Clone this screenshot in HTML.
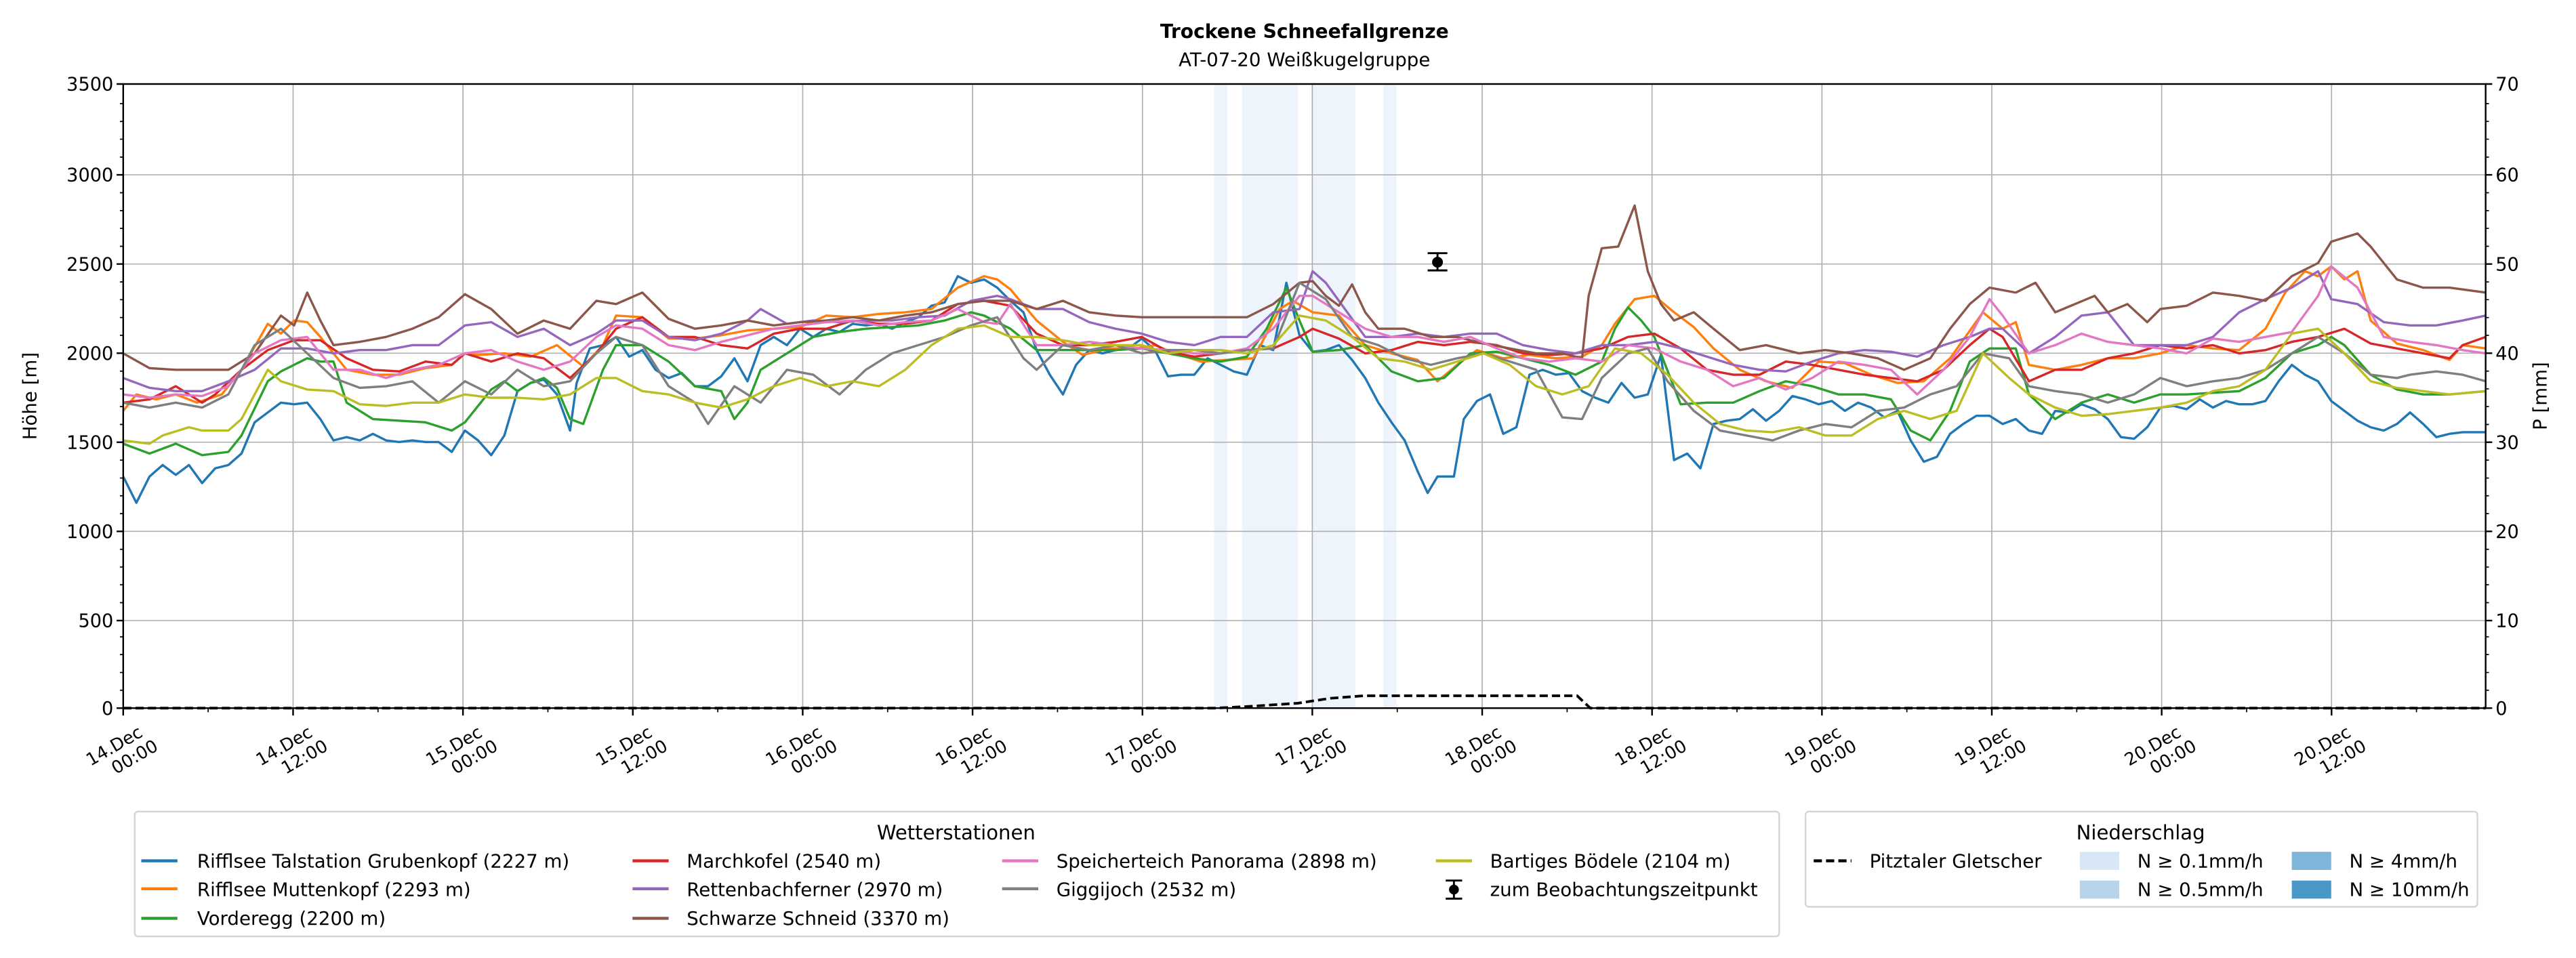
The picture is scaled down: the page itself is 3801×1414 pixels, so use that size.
<!DOCTYPE html>
<html><head><meta charset="utf-8"><style>
html,body{margin:0;padding:0;background:#fff;}
svg{display:block;}
text{font-family:"DejaVu Sans","Liberation Sans",sans-serif;fill:#000;}
</style></head><body>
<svg width="3801" height="1414" viewBox="0 0 1568 583" xmlns="http://www.w3.org/2000/svg">
<rect width="1568" height="583" fill="#fff"/>
<text x="794" y="23" font-size="11.6" font-weight="bold" text-anchor="middle">Trockene Schneefallgrenze</text>
<text x="794" y="40" font-size="11.4" text-anchor="middle">AT-07-20 Weißkugelgruppe</text>
<g fill="#eef4fb">
<rect x="739" y="51" width="8" height="380"/>
<rect x="756" y="51" width="34" height="380"/>
<rect x="799" y="51" width="26" height="380"/>
<rect x="842" y="51" width="8" height="380"/>
</g>
<g stroke="#b0b0b0" stroke-width="0.7">
<line x1="75" x2="1513" y1="377.7" y2="377.7"/><line x1="75" x2="1513" y1="323.4" y2="323.4"/>
<line x1="75" x2="1513" y1="269.1" y2="269.1"/><line x1="75" x2="1513" y1="214.9" y2="214.9"/>
<line x1="75" x2="1513" y1="160.6" y2="160.6"/><line x1="75" x2="1513" y1="106.3" y2="106.3"/>
<line y1="51" y2="431" x1="178.4" x2="178.4"/><line y1="51" y2="431" x1="281.8" x2="281.8"/>
<line y1="51" y2="431" x1="385.2" x2="385.2"/><line y1="51" y2="431" x1="488.6" x2="488.6"/>
<line y1="51" y2="431" x1="592" x2="592"/><line y1="51" y2="431" x1="695.4" x2="695.4"/>
<line y1="51" y2="431" x1="798.8" x2="798.8"/><line y1="51" y2="431" x1="902.2" x2="902.2"/>
<line y1="51" y2="431" x1="1005.6" x2="1005.6"/><line y1="51" y2="431" x1="1109" x2="1109"/>
<line y1="51" y2="431" x1="1212.4" x2="1212.4"/><line y1="51" y2="431" x1="1315.8" x2="1315.8"/>
<line y1="51" y2="431" x1="1419.2" x2="1419.2"/>
</g>
<g fill="none" stroke-width="1.4" stroke-linejoin="round">
<polyline stroke="#1f77b4" points="75,290 83,306 91,290 99,283 107,289 115,283 123,294 131,285 139,283 147,276 155,257 163,251 171,245 179,246 187,245 195,255 203,268 211,266 219,268 227,264 235,268 243,269 251,268 259,269 267,269 275,275 283,262 291,268 299,277 307,265 315,238 323,233 331,231 339,240 347,262 351,233 359,212 367,210 375,205 383,217 391,213 399,225 407,230 415,227 423,235 431,235 439,229 447,218 455,232 463,210 471,205 479,210 487,200 495,205 503,200 511,202 519,197 527,198 535,197 543,200 551,196 559,193 567,186 575,184 583,168 591,172 599,170 607,175 615,183 623,190 631,213 639,228 647,240 655,222 663,213 671,215 679,213 687,212 695,206 703,213 711,229 719,228 727,228 735,218 743,222 751,226 759,228 767,210 775,213 783,172 791,204 799,214 807,213 815,210 823,219 831,230 839,245 847,257 855,268 863,287 869,300 875,290 885,290 891,255 899,244 907,240 915,264 923,260 931,228 939,225 947,228 955,227 963,238 971,242 979,245 987,233 995,242 1003,240 1011,216 1019,280 1027,276 1035,285 1043,258 1051,256 1059,255 1067,249 1075,256 1083,250 1091,241 1099,243 1107,246 1115,244 1123,250 1131,245 1139,248 1147,254 1155,250 1163,268 1171,281 1179,278 1187,264 1195,258 1203,253 1211,253 1219,258 1227,255 1235,262 1243,264 1251,250 1259,251 1267,246 1275,249 1283,255 1291,266 1299,267 1307,260 1315,248 1323,247 1331,249 1339,243 1347,248 1355,244 1363,246 1371,246 1379,244 1387,232 1395,222 1403,228 1411,232 1419,244 1427,250 1435,256 1443,260 1451,262 1459,258 1467,251 1475,258 1483,266 1491,264 1499,263 1513,263"/>
<polyline stroke="#ff7f0e" points="75,250 83,240 95,243 107,240 120,245 135,240 147,225 163,197 171,203 179,195 187,196 195,205 203,215 211,225 227,228 243,228 259,224 275,222 283,215 291,216 307,215 323,217 339,210 355,223 367,210 375,192 391,193 407,206 423,206 439,204 455,201 471,200 487,199 503,192 519,193 535,191 551,190 567,188 583,175 599,168 607,170 615,176 631,195 647,208 659,216 675,212 691,212 703,210 715,215 731,220 747,219 763,218 779,188 787,183 799,190 815,192 831,210 847,215 863,219 875,232 887,222 899,213 915,218 931,216 947,218 963,217 975,210 983,197 995,182 1007,180 1019,190 1031,199 1043,212 1059,225 1075,232 1091,236 1107,220 1123,221 1139,228 1155,233 1171,232 1187,218 1207,190 1219,200 1227,196 1235,222 1251,225 1267,222 1283,218 1299,218 1315,215 1331,210 1347,212 1363,213 1379,200 1391,178 1403,165 1411,168 1419,162 1427,170 1435,165 1443,195 1459,209 1475,213 1491,219 1499,210 1513,212"/>
<polyline stroke="#2ca02c" points="75,270 91,276 107,270 123,277 139,275 147,265 163,232 171,226 179,222 187,218 195,220 203,220 211,245 227,255 243,256 259,257 275,262 283,257 299,237 307,232 315,238 323,233 331,230 339,236 347,255 355,258 367,225 375,210 391,210 407,220 423,235 439,238 447,255 455,245 463,225 479,215 495,205 511,202 527,200 543,199 559,198 575,195 591,190 599,192 615,200 631,213 647,213 663,213 679,213 695,212 711,215 727,218 743,220 759,217 771,200 783,175 791,195 799,214 815,213 831,210 847,226 863,232 879,230 895,215 911,214 927,218 943,222 959,228 975,220 983,200 991,187 999,195 1007,205 1023,246 1039,245 1055,245 1071,238 1087,232 1103,235 1119,240 1135,240 1151,243 1163,262 1175,268 1187,250 1199,220 1211,212 1227,212 1235,240 1251,255 1267,245 1283,240 1299,245 1315,240 1331,240 1347,239 1363,238 1379,230 1395,215 1411,210 1419,205 1427,210 1443,228 1459,237 1475,240 1491,240 1513,238"/>
<polyline stroke="#d62728" points="75,245 91,243 107,235 123,245 131,240 147,225 163,213 179,207 195,207 211,218 227,225 243,226 259,220 275,222 283,215 299,220 315,215 331,218 347,230 363,215 375,200 391,193 407,205 423,205 439,210 455,212 471,203 487,200 503,200 519,195 535,197 551,197 567,195 583,185 599,183 615,186 631,203 647,210 663,210 679,208 695,205 711,214 727,217 743,215 759,213 775,212 791,205 799,200 815,206 831,215 847,213 863,208 879,210 895,208 911,210 927,215 943,216 959,215 975,212 991,205 1007,203 1023,212 1039,225 1055,228 1071,228 1087,220 1103,222 1119,225 1135,228 1151,230 1167,232 1183,225 1199,210 1211,200 1219,205 1235,232 1251,225 1267,225 1283,218 1299,215 1315,210 1331,212 1347,210 1363,215 1379,213 1395,208 1411,205 1427,200 1443,209 1459,212 1475,215 1491,218 1499,210 1513,205"/>
<polyline stroke="#9467bd" points="75,230 91,236 107,238 123,238 139,232 155,225 171,212 187,212 203,215 219,213 235,213 251,210 267,210 283,198 299,196 315,205 331,200 347,210 363,203 375,195 391,195 407,205 423,207 439,203 455,195 463,188 479,197 495,195 511,196 527,195 543,195 559,193 575,192 591,183 607,180 615,182 631,188 647,188 663,196 679,200 695,203 711,208 727,210 743,205 759,205 775,190 791,188 799,165 807,172 815,183 831,205 847,205 863,203 879,205 895,203 911,203 927,210 943,213 959,215 975,210 991,210 1007,208 1023,212 1039,217 1055,222 1071,225 1087,226 1103,220 1119,215 1135,213 1151,214 1167,217 1183,210 1199,205 1211,200 1219,200 1235,215 1251,205 1267,192 1283,190 1299,210 1315,210 1331,210 1347,205 1363,190 1379,182 1395,175 1411,165 1419,182 1435,185 1451,196 1467,198 1483,198 1499,195 1513,192"/>
<polyline stroke="#8c564b" points="75,215 91,224 107,225 123,225 139,225 155,215 171,192 179,198 187,178 195,195 203,210 219,208 235,205 251,200 267,193 283,179 299,188 315,203 331,195 347,200 363,183 375,185 391,178 407,194 423,200 439,198 455,195 471,198 487,196 503,195 519,193 535,195 551,192 567,190 583,185 599,183 615,183 631,188 647,183 663,190 679,192 695,193 711,193 727,193 743,193 759,193 775,185 791,172 799,171 807,180 815,186 823,173 831,190 839,200 855,200 871,205 887,205 903,209 919,212 935,215 951,215 963,218 967,180 975,151 985,150 995,125 1003,165 1011,185 1019,195 1031,190 1043,200 1059,213 1075,210 1087,213 1095,215 1111,213 1127,215 1143,218 1159,225 1175,218 1187,200 1199,185 1211,175 1227,178 1239,172 1251,190 1263,185 1275,180 1283,190 1295,185 1307,196 1315,188 1331,186 1347,178 1363,180 1379,183 1395,168 1411,160 1419,147 1435,142 1443,150 1459,170 1475,175 1491,175 1513,178"/>
<polyline stroke="#e377c2" points="75,240 91,242 107,240 123,241 139,235 155,215 171,207 187,205 203,225 219,225 235,230 251,225 267,222 283,215 299,213 315,220 331,225 347,220 363,205 375,198 391,200 407,210 423,213 439,208 455,204 471,200 487,198 503,196 519,195 535,198 551,196 567,195 583,188 599,196 607,197 615,185 631,210 647,210 663,208 679,210 695,212 711,213 727,215 743,215 759,212 775,200 791,180 799,180 815,190 831,200 847,205 863,205 879,208 895,205 911,212 927,218 943,220 959,218 975,220 991,210 1007,212 1023,220 1039,225 1055,235 1071,230 1087,237 1103,230 1119,220 1135,222 1151,225 1167,240 1183,225 1199,205 1211,182 1219,192 1235,215 1251,210 1267,203 1283,208 1299,210 1315,212 1331,215 1347,206 1363,208 1379,205 1395,202 1411,180 1419,162 1435,175 1451,205 1467,208 1483,210 1499,213 1513,215"/>
<polyline stroke="#7f7f7f" points="75,245 91,248 107,245 123,248 139,240 155,210 171,200 187,215 203,230 219,236 235,235 251,232 267,245 283,232 299,240 315,225 331,235 347,232 363,215 375,205 391,210 407,235 423,245 431,258 447,235 463,245 479,225 495,228 511,240 527,225 543,215 559,210 575,205 591,198 607,193 623,218 631,225 647,210 663,213 679,210 695,215 711,213 727,213 743,215 759,213 775,212 791,172 807,182 823,205 839,210 855,218 871,222 887,218 903,215 919,220 935,225 951,254 963,255 975,230 991,215 1003,212 1015,232 1031,250 1047,262 1063,265 1079,268 1095,262 1111,258 1127,260 1143,250 1159,248 1175,240 1191,235 1207,215 1223,218 1235,235 1251,238 1267,240 1283,245 1299,240 1315,230 1331,235 1347,232 1363,230 1379,225 1395,215 1411,205 1427,215 1443,228 1459,230 1467,228 1483,226 1499,228 1513,232"/>
<polyline stroke="#bcbd22" points="75,268 91,270 99,265 115,260 123,262 139,262 147,255 163,225 171,232 187,237 203,238 219,246 235,247 251,245 267,245 283,240 299,242 315,242 331,243 347,240 363,230 375,230 391,238 407,240 423,245 439,248 455,243 471,235 487,230 503,235 519,232 535,235 551,225 567,210 583,200 599,198 615,205 631,205 647,207 663,210 679,210 695,210 711,215 727,213 743,213 759,215 775,210 791,192 807,195 823,205 839,218 855,220 871,225 887,220 903,215 919,222 935,235 951,240 967,235 983,212 999,215 1015,228 1031,245 1047,258 1063,262 1079,263 1095,260 1111,265 1127,265 1143,255 1159,250 1175,255 1191,250 1207,215 1223,230 1235,240 1251,248 1267,253 1283,252 1299,250 1315,248 1331,245 1347,238 1363,235 1379,225 1395,203 1411,200 1427,215 1443,232 1459,236 1475,238 1491,240 1513,238"/>
</g>
<polyline fill="none" stroke="#000" stroke-width="1.6" stroke-dasharray="5,2.5" points="75,431 740,431 760,430 790,428 810,425 830,423.5 960,423.5 968,431 1513,431"/>
<g stroke="#000" stroke-width="1.2">
<line x1="875" x2="875" y1="154" y2="164.5"/><line x1="869" x2="881" y1="154" y2="154"/><line x1="869" x2="881" y1="164.5" y2="164.5"/>
</g>
<circle cx="875" cy="159.5" r="3.3" fill="#000"/>
<rect x="75" y="51" width="1438" height="380" fill="none" stroke="#000" stroke-width="1"/>
<g stroke="#000" stroke-width="1">
<path d="M71,431H75M71,377.7H75M71,323.4H75M71,269.1H75M71,214.9H75M71,160.6H75M71,106.3H75M71,51H75"/>
<path d="M1513,431H1517M1513,377.7H1517M1513,323.4H1517M1513,269.1H1517M1513,214.9H1517M1513,160.6H1517M1513,106.3H1517M1513,51H1517"/>
<path d="M75,431V435.5M178.4,431V435.5M281.8,431V435.5M385.2,431V435.5M488.6,431V435.5M592,431V435.5M695.4,431V435.5M798.8,431V435.5M902.2,431V435.5M1005.6,431V435.5M1109,431V435.5M1212.4,431V435.5M1315.8,431V435.5M1419.2,431V435.5"/>
</g>
<g stroke="#000" stroke-width="0.7">
<path d="M73,420.1H75M73,409.3H75M73,398.4H75M73,387.6H75M73,366.8H75M73,355.9H75M73,345.1H75M73,334.3H75M73,312.6H75M73,301.7H75M73,290.9H75M73,280H75M73,258.3H75M73,247.4H75M73,236.6H75M73,225.8H75M73,204H75M73,193.2H75M73,182.3H75M73,171.5H75M73,149.8H75M73,138.9H75M73,128.1H75M73,117.2H75M73,95.5H75M73,84.6H75M73,73.8H75M73,62.9H75"/>
<path d="M1513,420.1H1515M1513,409.3H1515M1513,398.4H1515M1513,387.6H1515M1513,366.8H1515M1513,355.9H1515M1513,345.1H1515M1513,334.3H1515M1513,312.6H1515M1513,301.7H1515M1513,290.9H1515M1513,280H1515M1513,258.3H1515M1513,247.4H1515M1513,236.6H1515M1513,225.8H1515M1513,204H1515M1513,193.2H1515M1513,182.3H1515M1513,171.5H1515M1513,149.8H1515M1513,138.9H1515M1513,128.1H1515M1513,117.2H1515M1513,95.5H1515M1513,84.6H1515M1513,73.8H1515M1513,62.9H1515"/>
<path d="M126.7,431V433.5M230.1,431V433.5M333.5,431V433.5M436.9,431V433.5M540.3,431V433.5M643.7,431V433.5M747.1,431V433.5M850.5,431V433.5M953.9,431V433.5M1057.3,431V433.5M1160.7,431V433.5M1264.1,431V433.5M1367.5,431V433.5M1470.9,431V433.5"/>
</g>
<g font-size="11.2" text-anchor="end">
<text x="69" y="435">0</text><text x="69" y="381.7">500</text><text x="69" y="327.4">1000</text><text x="69" y="273.1">1500</text><text x="69" y="218.9">2000</text><text x="69" y="164.6">2500</text><text x="69" y="110.3">3000</text><text x="69" y="55">3500</text>
</g>
<g font-size="11.2" text-anchor="start">
<text x="1519" y="435">0</text><text x="1519" y="381.7">10</text><text x="1519" y="327.4">20</text><text x="1519" y="273.1">30</text><text x="1519" y="218.9">40</text><text x="1519" y="164.6">50</text><text x="1519" y="110.3">60</text><text x="1519" y="55">70</text>
</g>
<text transform="translate(22,241) rotate(-90)" font-size="11.4" text-anchor="middle">Höhe [m]</text>
<text transform="translate(1550,241) rotate(-90)" font-size="11.4" text-anchor="middle">P [mm]</text>
<g font-size="10.6" text-anchor="end">
<g transform="translate(83,440) rotate(-30)"><text x="0" y="9">14.Dec</text><text x="4" y="21">00:00</text></g>
<g transform="translate(186.4,440) rotate(-30)"><text x="0" y="9">14.Dec</text><text x="4" y="21">12:00</text></g>
<g transform="translate(289.8,440) rotate(-30)"><text x="0" y="9">15.Dec</text><text x="4" y="21">00:00</text></g>
<g transform="translate(393.2,440) rotate(-30)"><text x="0" y="9">15.Dec</text><text x="4" y="21">12:00</text></g>
<g transform="translate(496.6,440) rotate(-30)"><text x="0" y="9">16.Dec</text><text x="4" y="21">00:00</text></g>
<g transform="translate(600,440) rotate(-30)"><text x="0" y="9">16.Dec</text><text x="4" y="21">12:00</text></g>
<g transform="translate(703.4,440) rotate(-30)"><text x="0" y="9">17.Dec</text><text x="4" y="21">00:00</text></g>
<g transform="translate(806.8,440) rotate(-30)"><text x="0" y="9">17.Dec</text><text x="4" y="21">12:00</text></g>
<g transform="translate(910.2,440) rotate(-30)"><text x="0" y="9">18.Dec</text><text x="4" y="21">00:00</text></g>
<g transform="translate(1013.6,440) rotate(-30)"><text x="0" y="9">18.Dec</text><text x="4" y="21">12:00</text></g>
<g transform="translate(1117,440) rotate(-30)"><text x="0" y="9">19.Dec</text><text x="4" y="21">00:00</text></g>
<g transform="translate(1220.4,440) rotate(-30)"><text x="0" y="9">19.Dec</text><text x="4" y="21">12:00</text></g>
<g transform="translate(1323.8,440) rotate(-30)"><text x="0" y="9">20.Dec</text><text x="4" y="21">00:00</text></g>
<g transform="translate(1427.2,440) rotate(-30)"><text x="0" y="9">20.Dec</text><text x="4" y="21">12:00</text></g>
</g>
<rect x="82" y="494" width="1001" height="76" rx="2" fill="#fff" stroke="#d5d5d5" stroke-width="1"/>
<text x="582" y="511" font-size="12" text-anchor="middle">Wetterstationen</text>
<g stroke-width="1.8">
<line x1="86" x2="108" y1="524" y2="524" stroke="#1f77b4"/>
<line x1="86" x2="108" y1="541" y2="541" stroke="#ff7f0e"/>
<line x1="86" x2="108" y1="559" y2="559" stroke="#2ca02c"/>
<line x1="385" x2="407" y1="524" y2="524" stroke="#d62728"/>
<line x1="385" x2="407" y1="541" y2="541" stroke="#9467bd"/>
<line x1="385" x2="407" y1="559" y2="559" stroke="#8c564b"/>
<line x1="610" x2="632" y1="524" y2="524" stroke="#e377c2"/>
<line x1="610" x2="632" y1="541" y2="541" stroke="#7f7f7f"/>
<line x1="874" x2="896" y1="524" y2="524" stroke="#bcbd22"/>
<line x1="885" x2="885" y1="536" y2="547" stroke="#000" stroke-width="1.2"/>
<line x1="880" x2="890" y1="536" y2="536" stroke="#000" stroke-width="1.2"/>
<line x1="880" x2="890" y1="547" y2="547" stroke="#000" stroke-width="1.2"/>
</g>
<circle cx="885" cy="541.5" r="3" fill="#000"/>
<g font-size="11.4">
<text x="120" y="528">Rifflsee Talstation Grubenkopf (2227 m)</text>
<text x="120" y="545.5">Rifflsee Muttenkopf (2293 m)</text>
<text x="120" y="563">Vorderegg (2200 m)</text>
<text x="418" y="528">Marchkofel (2540 m)</text>
<text x="418" y="545.5">Rettenbachferner (2970 m)</text>
<text x="418" y="563">Schwarze Schneid (3370 m)</text>
<text x="643" y="528">Speicherteich Panorama (2898 m)</text>
<text x="643" y="545.5">Giggijoch (2532 m)</text>
<text x="907" y="528">Bartiges Bödele (2104 m)</text>
<text x="907" y="545.5">zum Beobachtungszeitpunkt</text>
</g>
<rect x="1099" y="494" width="409" height="58" rx="2" fill="#fff" stroke="#d5d5d5" stroke-width="1"/>
<text x="1303" y="511" font-size="12" text-anchor="middle">Niederschlag</text>
<line x1="1104" x2="1127" y1="524" y2="524" stroke="#000" stroke-width="1.8" stroke-dasharray="5,2.5"/>
<rect x="1266" y="518.5" width="24" height="11" fill="#d8e7f5"/>
<rect x="1266" y="536" width="24" height="11" fill="#b7d4ea"/>
<rect x="1395" y="518.5" width="24" height="11" fill="#7fb5d9"/>
<rect x="1395" y="536" width="24" height="11" fill="#4a98c9"/>
<g font-size="11.4">
<text x="1138" y="528">Pitztaler Gletscher</text>
<text x="1301" y="528">N ≥ 0.1mm/h</text>
<text x="1301" y="545.5">N ≥ 0.5mm/h</text>
<text x="1430" y="528">N ≥ 4mm/h</text>
<text x="1430" y="545.5">N ≥ 10mm/h</text>
</g>
</svg>
</body></html>
